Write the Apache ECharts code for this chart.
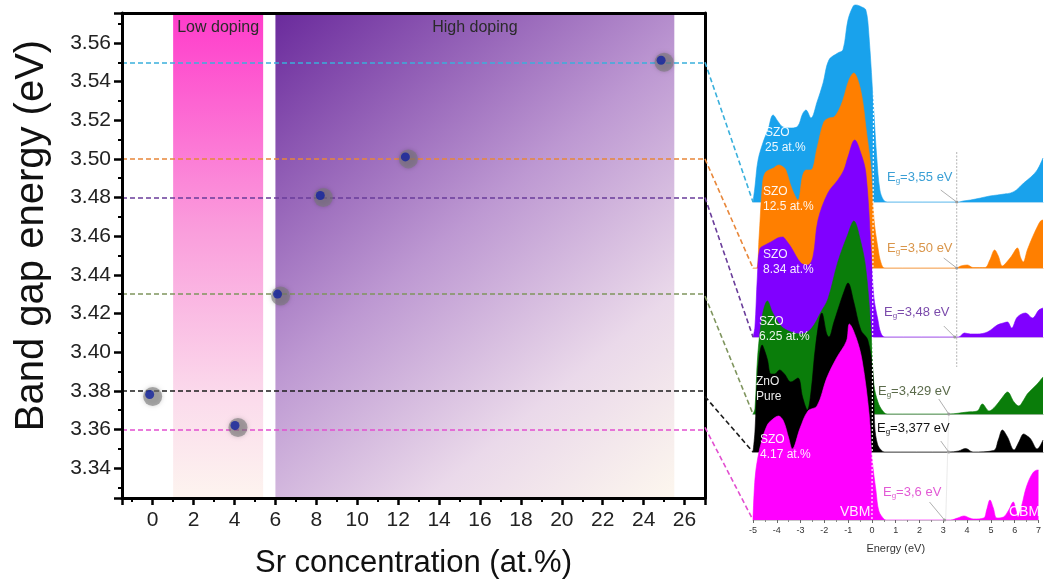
<!DOCTYPE html>
<html><head><meta charset="utf-8">
<script src="https://cdn.jsdelivr.net/npm/echarts@6/dist/echarts.min.js"></script>
<style>html,body{margin:0;padding:0;background:#fff}#c{width:1044px;height:587px}</style>
</head><body><div id="c"></div>
<script>
const FONT = 'Arial, "Liberation Sans", Helvetica, sans-serif';

// ---------- Left chart data ----------
const concentrations = [0, 4.17, 6.25, 8.34, 12.5, 25];
const bandGaps = [3.377, 3.361, 3.429, 3.48, 3.50, 3.55];
const sampleLabels = ['ZnO\nPure', 'SZO\n4.17 at.%', 'SZO\n6.25 at.%', 'SZO\n8.34 at.%', 'SZO\n12.5 at.%', 'SZO\n25 at.%'];
const egTexts = ['3,377', '3,6', '3,429', '3,48', '3,50', '3,55'];
const lowDoping = [1.0, 5.4];
const highDoping = [6.0, 25.5];
const xRange = [-1.5, 27.0];
const yRange = [3.3245, 3.5755];

// ---------- DOS data (energy eV, DOS a.u.) ----------
const dos25VB = [[-5,0],[-4.92,15],[-4.79,42],[-4.55,62],[-4.38,72],[-4.17,87],[-3.95,80],[-3.76,75],[-3.4,74],[-3.14,76],[-2.95,88],[-2.81,92],[-2.6,84],[-2.35,100],[-2.1,119],[-1.86,142],[-1.49,149],[-1.28,152],[-1.07,182],[-0.85,196],[-0.74,197],[-0.5,195],[-0.33,192],[-0.21,169],[0,90],[0.12,45],[0.25,12],[0.4,2],[0.55,0]];
const dos25CB = [[3.5,0],[3.7,1],[4.0,2],[4.42,4],[4.8,6],[5.11,7],[5.4,8],[5.66,9],[5.9,12],[6.2,19],[6.5,25],[6.76,32],[7,44]];
const dos125VB = [[-5,0],[-4.85,0],[-4.75,30],[-4.62,80],[-4.5,95],[-4.15,100],[-3.93,103],[-3.75,101],[-3.64,98],[-3.4,80],[-3.14,68],[-2.95,92],[-2.8,98],[-2.6,98],[-2.35,120],[-2.07,146],[-1.85,150],[-1.65,151],[-1.45,158],[-1.28,168],[-1.03,188],[-0.83,195],[-0.62,185],[-0.45,165],[-0.33,141],[-0.12,100],[0,50],[0.17,20],[0.3,5],[0.45,0]];
const dos125CB = [[3.4,0],[3.6,2],[3.87,3],[4.1,0.5],[4.6,0.5],[4.8,8],[5.0,18],[5.15,12],[5.32,2],[5.5,6],[5.7,12],[5.94,20],[6.08,10],[6.18,6],[6.35,18],[6.55,30],[6.76,41],[6.9,47],[7,48]];
const dos834VB = [[-5,0],[-4.92,10],[-4.82,60],[-4.72,88],[-4.5,92],[-4.26,95],[-3.98,99],[-3.77,100],[-3.64,97],[-3.43,90],[-3.02,74],[-2.73,72],[-2.52,80],[-2.31,117],[-1.9,144],[-1.49,157],[-1.24,167],[-1.07,180],[-0.79,197],[-0.54,184],[-0.33,164],[-0.12,90],[0,40],[0.17,17],[0.29,4],[0.45,0]];
const dos834CB = [[3.5,0],[3.75,4],[4.0,3],[4.28,3],[4.7,5],[5.11,12],[5.35,14],[5.53,15],[5.7,9],[5.94,20],[6.28,24],[6.56,19],[6.83,27],[7,29]];
const dos625VB = [[-5,0],[-4.92,5],[-4.8,60],[-4.6,100],[-4.4,113],[-4.2,102],[-3.84,88],[-3.43,82],[-3.02,80],[-2.6,85],[-2.19,102],[-1.9,115],[-1.49,152],[-1.07,180],[-0.83,193],[-0.54,172],[-0.33,145],[-0.12,85],[0,30],[0.17,12],[0.37,3],[0.55,0]];
const dos625CB = [[3.1,0],[3.87,2],[4.28,3],[4.49,10],[4.77,3],[5.04,8],[5.3,16],[5.53,22],[5.8,12],[6.0,8],[6.2,14],[6.35,20],[6.55,25],[6.76,30],[7,37]];
const dosPureVB = [[-5,0],[-4.92,20],[-4.8,80],[-4.62,107],[-4.5,100],[-4.4,92],[-4.26,78],[-4.1,78],[-3.9,82],[-3.7,78],[-3.43,70],[-3.14,74],[-2.95,55],[-2.75,42],[-2.6,60],[-2.4,108],[-2.15,139],[-1.95,118],[-1.86,115],[-1.65,130],[-1.49,142],[-1.24,160],[-1.07,169],[-0.83,150],[-0.54,122],[-0.25,112],[-0.04,79],[0.04,25],[0.15,8],[0.3,2],[0.45,0]];
const dosPureCB = [[3.1,0],[3.5,1],[3.8,3.5],[4.1,0],[4.96,1.5],[5.15,12],[5.32,22],[5.53,15],[5.8,2],[6.0,10],[6.2,18],[6.35,16],[6.49,13],[6.76,3],[7,12]];
const dos417VB = [[-5,0],[-4.92,40],[-4.8,62],[-4.6,82],[-4.4,95],[-4.26,99],[-3.93,104],[-3.72,99],[-3.5,82],[-3.35,71],[-3.02,92],[-2.69,109],[-2.31,114],[-1.9,142],[-1.49,162],[-1.07,179],[-0.95,196],[-0.66,182],[-0.41,159],[-0.12,106],[0,62],[0.17,29],[0.29,9],[0.5,1],[0.6,0]];
const dos417CB = [[3.3,0],[3.6,2],[3.87,4],[4.1,2],[4.28,1],[4.7,2],[4.82,10],[4.96,20],[5.1,12],[5.25,2],[5.53,3],[5.75,10],[5.94,18],[6.05,10],[6.14,3],[6.3,15],[6.49,33],[6.76,47],[6.97,50],[7,50]];
const dosTicks = [-5, 7];
const egArrowE = [3.1, 3.05, 3.1, 3.35, 3.43, 3.43]; // per sample (same order as concentrations)

// ---------- styling / layout (per sample, same order) ----------
const dashColors = ['#1c1c1c', '#e24fd0', '#7f955e', '#6a3d9a', '#e8873a', '#3ab0dc'];
const dosColors = ['#000000', '#ff00ff', '#0a7d0a', '#8000ff', '#ff7f00', '#19a2ec'];
const baseColors = ['#8c8c8c', '#c8c8c8', '#8fb08f', '#c9a3e8', '#f5c393', '#a9d8f3'];
const egColors = ['#111111', '#e25ad5', '#5b6b4b', '#7b4bab', '#d9954a', '#3a9fd5'];
const dosVB = [dosPureVB, dos417VB, dos625VB, dos834VB, dos125VB, dos25VB];
const dosCB = [dosPureCB, dos417CB, dos625CB, dos834CB, dos125CB, dos25CB];
const panelOrder = [5, 4, 3, 2, 0, 1];
const panelBase = [202, 268, 337, 414, 452, 520];
const labelPos = [[765,125],[763,184],[763,247],[759,314],[756,374],[760,432]];
const egPos = [[887,170],[887,241],[884,305],[878,384],[877,421],[883,485]];
const arrowOff = [[-16,-12],[-13,-10],[-11,-11],[-10,-15],[-8,-11],[-15,-18]];
const H = 587, W = 1044;

const grids = [{left:122, right:339, top:13, bottom:89}];
const xAxes = [
  {gridIndex:0, type:'value', min:xRange[0], max:xRange[1], splitNumber:14, z:10,
   axisLine:{onZero:false, lineStyle:{color:'#000', width:3}},
   axisTick:{length:7, lineStyle:{color:'#000', width:2.5}},
   minorTick:{show:true, splitNumber:2, length:4, lineStyle:{color:'#000', width:2}},
   axisLabel:{fontSize:21, color:'#222', margin:12, fontFamily:FONT, showMinLabel:false, showMaxLabel:false},
   splitLine:{show:false},
   name:'Sr concentration (at.%)', nameLocation:'middle', nameGap:50,
   nameTextStyle:{fontSize:31, color:'#111', fontFamily:FONT}},
  {gridIndex:0, type:'value', position:'top', min:xRange[0], max:xRange[1], z:10,
   axisLine:{onZero:false, lineStyle:{color:'#000', width:3}}, axisTick:{show:false},
   axisLabel:{show:false}, splitLine:{show:false}}
];
const yAxes = [
  {gridIndex:0, type:'value', min:yRange[0], max:yRange[1], splitNumber:12, z:10,
   axisLine:{onZero:false, lineStyle:{color:'#000', width:3}},
   axisTick:{length:8, lineStyle:{color:'#000', width:2.5}},
   minorTick:{show:true, splitNumber:2, length:4, lineStyle:{color:'#000', width:2}},
   axisLabel:{fontSize:21, color:'#222', margin:11, fontFamily:FONT, showMinLabel:false, showMaxLabel:false,
              formatter:v=>v.toFixed(2)},
   splitLine:{show:false},
   name:'Band gap energy (eV)', nameLocation:'middle', nameGap:70,
   nameTextStyle:{fontSize:40, color:'#111', fontFamily:FONT, padding:[0,0,0,40]}},
  {gridIndex:0, type:'value', position:'right', min:yRange[0], max:yRange[1], z:10,
   axisLine:{onZero:false, lineStyle:{color:'#000', width:3}}, axisTick:{show:false},
   axisLabel:{show:false}, splitLine:{show:false}}
];

const series = [];
series.push({
  type:'scatter', xAxisIndex:0, yAxisIndex:0, z:6, silent:true,
  data: concentrations.map((c,i)=>[c, bandGaps[i]]),
  symbolSize:19,
  itemStyle:{color:'rgba(120,120,120,0.75)', shadowBlur:4, shadowColor:'rgba(0,0,0,0.3)'},
  markArea:{silent:true, z:1,
    label:{show:true, position:'insideTop', distance:7, fontSize:16, color:'#2a2a2a', fontFamily:FONT},
    data:[
      [{name:'Low doping', xAxis:lowDoping[0], itemStyle:{color:new echarts.graphic.LinearGradient(0,0,0,1,[
          {offset:0,color:'#ff3ccb'},{offset:0.45,color:'#fa9edc'},{offset:0.8,color:'#fbdcec'},{offset:1,color:'#fdf4ef'}])}},
       {xAxis:lowDoping[1]}],
      [{name:'High doping', xAxis:highDoping[0], itemStyle:{color:new echarts.graphic.LinearGradient(0,0,1,1,[
          {offset:0,color:'#6a2a9c'},{offset:0.45,color:'#bd98d2'},{offset:0.75,color:'#ead9ea'},{offset:1,color:'#fdf7ee'}])}},
       {xAxis:highDoping[1]}]
    ]}
});
series.push({
  type:'scatter', xAxisIndex:0, yAxisIndex:0, z:7, silent:true,
  data: concentrations.map((c,i)=>[c, bandGaps[i]]),
  symbolSize:9, symbolOffset:[-3,-2],
  itemStyle:{color:'#13239f'}
});
series.push({
  type:'line', xAxisIndex:0, yAxisIndex:0, data:[], silent:true,
  markLine:{silent:true, symbol:'none', z:3, label:{show:false},
    data: bandGaps.map((v,i)=>({yAxis:v, lineStyle:{color:dashColors[i], width:1.6, type:[5,3]}}))}
});

panelOrder.forEach((s, p) => {
  const base = panelBase[p];
  grids.push({left:753, right:1, top:base-200, bottom:H-base});
  const isBottom = p === panelOrder.length-1;
  xAxes.push({
    gridIndex:p+1, type:'value', min:dosTicks[0], max:dosTicks[1], interval:1,
    axisLine:{show:true, onZero:false, lineStyle:{color:baseColors[s], width:1.2}},
    axisTick:{show:isBottom, length:3, lineStyle:{color:'#666'}},
    minorTick:{show:isBottom, splitNumber:2, length:2, lineStyle:{color:'#888'}},
    axisLabel:{show:isBottom, fontSize:9, color:'#333', margin:6, fontFamily:FONT},
    splitLine:{show:false},
    name:isBottom?'Energy (eV)':'', nameLocation:'middle', nameGap:23,
    nameTextStyle:{fontSize:11, color:'#333', fontFamily:FONT}
  });
  yAxes.push({gridIndex:p+1, type:'value', min:0, max:200, show:false, splitLine:{show:false}});
  series.push({
    type:'line', xAxisIndex:p+2, yAxisIndex:p+2, z:2+p, silent:true,
    data: dosVB[s].concat(dosCB[s]), smooth:0.35, symbol:'none',
    lineStyle:{width:0.6, color:dosColors[s]},
    areaStyle:{color:dosColors[s], opacity:1}
  });
});

const chart = echarts.init(document.getElementById('c'));
chart.setOption({
  backgroundColor:'#fff', animation:false,
  grid:grids, xAxis:xAxes, yAxis:yAxes, series:series
});

const g = [];
const px = (p, v) => chart.convertToPixel({xAxisIndex:p+2, yAxisIndex:p+2}, v);
panelOrder.forEach((s, p) => {
  const a = chart.convertToPixel({xAxisIndex:0, yAxisIndex:0}, [xRange[1], bandGaps[s]]);
  const b = px(p, [dosTicks[0], 0]);
  g.push({type:'polyline', silent:true, z:20, shape:{points:[a,b]},
          style:{stroke:dashColors[s], lineWidth:1.6, lineDash:[5,3], fill:null}});
  g.push({type:'text', silent:true, z:30, x:labelPos[p][0], y:labelPos[p][1],
          style:{text:sampleLabels[s], fill:'rgba(255,255,255,0.92)', fontSize:12, lineHeight:15, fontFamily:FONT, verticalAlign:'top'}});
  const c = egColors[s];
  g.push({type:'text', silent:true, z:30, x:egPos[p][0], y:egPos[p][1],
          style:{text:'{a|E}{b|g}{a|=' + egTexts[s] + ' eV}', verticalAlign:'top',
                 rich:{a:{fill:c, fontSize:13, fontFamily:FONT}, b:{fill:c, fontSize:8, fontFamily:FONT, padding:[7,0,0,0]}}}});
  const e = px(p, [egArrowE[s], 0]);
  g.push({type:'line', silent:true, z:25, shape:{x1:e[0]+arrowOff[p][0], y1:e[1]+arrowOff[p][1], x2:e[0], y2:e[1]},
          style:{stroke:'#9a9a9a', lineWidth:0.8}});
  g.push({type:'circle', silent:true, z:25, shape:{cx:e[0], cy:e[1], r:1.5}, style:{fill:'#9a9a9a'}});
});
const v1 = px(0, [0, 185]), v2 = px(5, [0, 0]);
g.push({type:'line', silent:true, z:24, shape:{x1:v1[0], y1:v1[1], x2:v2[0], y2:v2[1]},
        style:{stroke:'rgba(255,255,255,0.95)', lineWidth:1.2, lineDash:[2,2]}});
const c1 = px(0, [3.43, 50]), c2 = px(3, [3.43, 47]);
g.push({type:'line', silent:true, z:24, shape:{x1:c1[0], y1:c1[1], x2:c2[0], y2:c2[1]},
        style:{stroke:'#a0a0a0', lineWidth:0.8, lineDash:[2,1.5]}});
const c3 = px(3, [3.1, 0]), c4 = px(5, [3.1, 0]);
g.push({type:'line', silent:true, z:1, shape:{x1:c3[0], y1:c3[1], x2:c4[0], y2:c4[1]},
        style:{stroke:'#e4e4e4', lineWidth:0.8}});
g.push({type:'text', silent:true, z:30, x:840, y:505, style:{text:'VBM', fill:'rgba(255,255,255,0.92)', fontSize:14, fontFamily:FONT, verticalAlign:'top'}});
g.push({type:'text', silent:true, z:30, x:1009, y:505, style:{text:'CBM', fill:'rgba(255,255,255,0.92)', fontSize:14, fontFamily:FONT, verticalAlign:'top'}});
chart.setOption({graphic:g});
</script></body></html>
